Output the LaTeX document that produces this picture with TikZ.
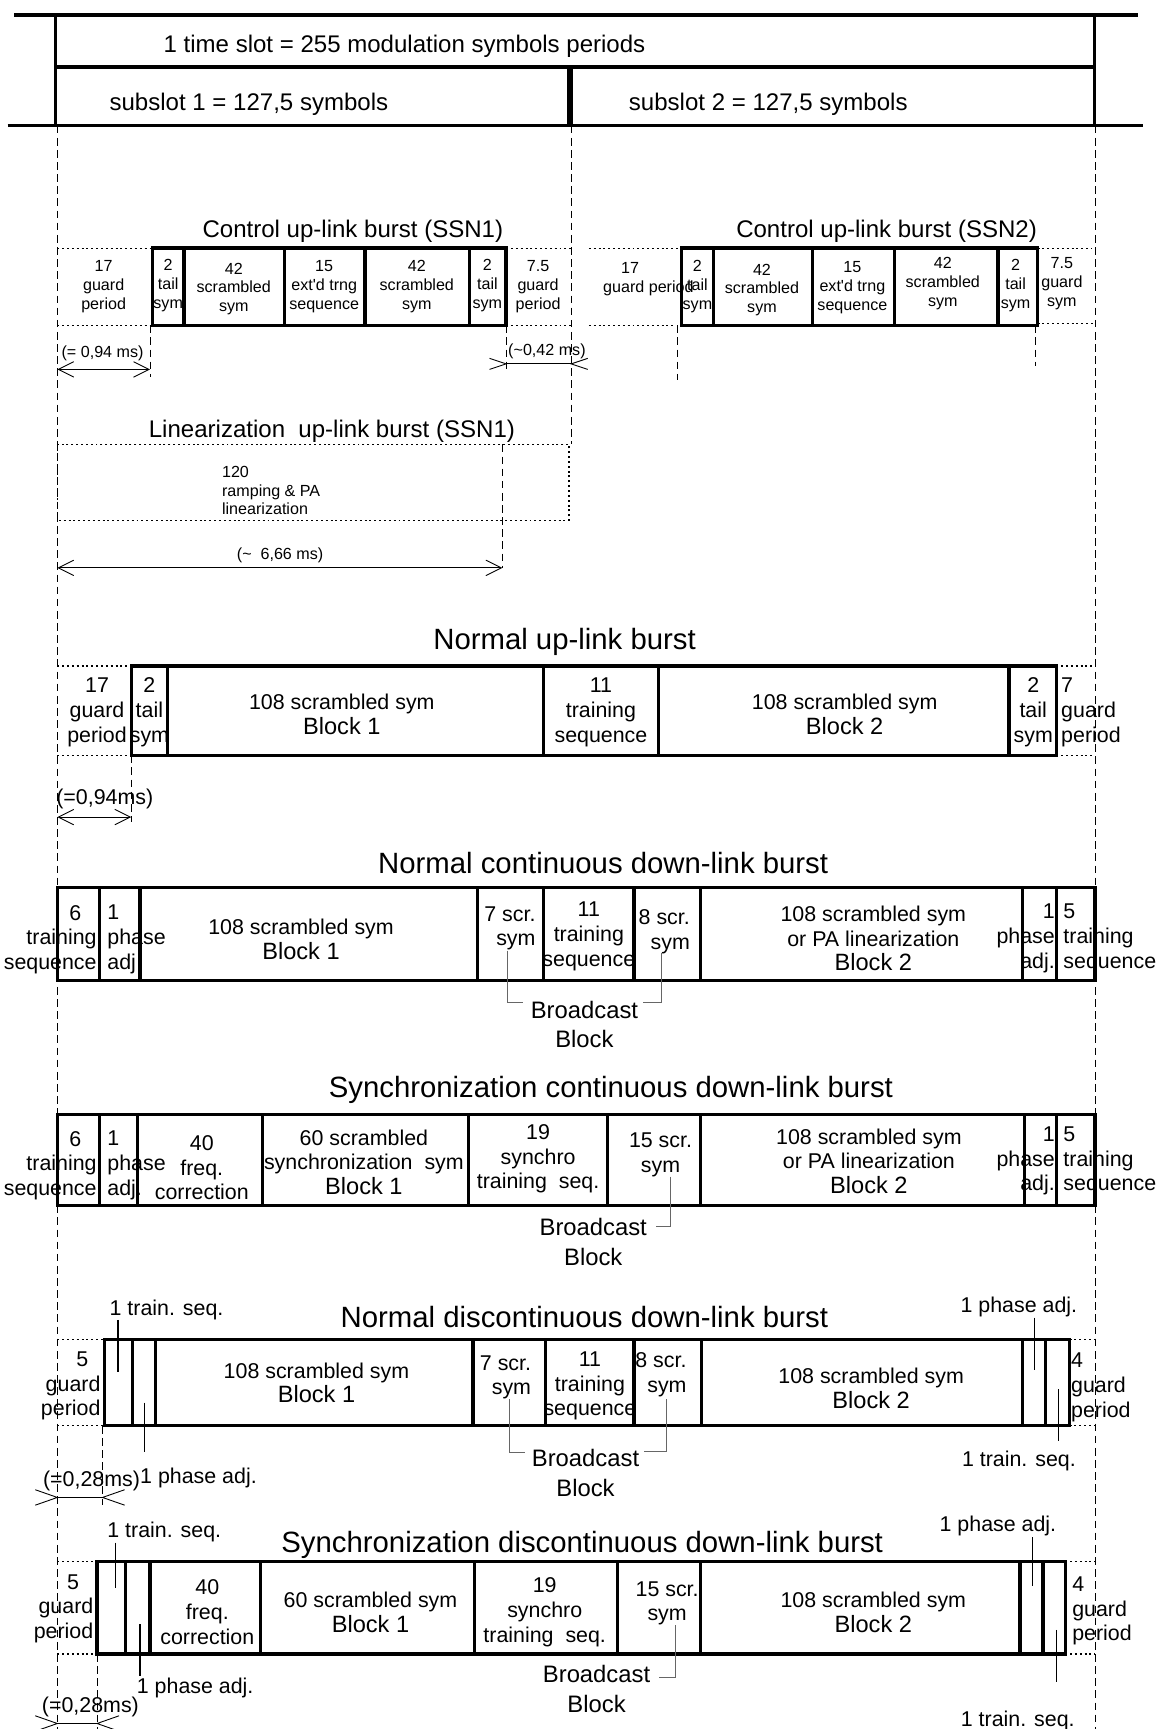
\documentclass[tikz,border=0pt]{standalone}
\usepackage{fontspec}
\setmainfont{Liberation Sans}
\usetikzlibrary{arrows.meta}

\newcommand{\blk}{\fontsize{10.7}{11.8}\selectfont}

\tikzset{
  slotline/.style={line width=1.6pt},
  burst/.style={line width=1.5pt},
  dotln/.style={line width=0.5pt, dash pattern=on 0.9pt off 1.3pt},
  guide/.style={line width=0.4pt, dash pattern=on 3.5pt off 2pt},
  leader/.style={line width=0.45pt, black!60},
  tick/.style={line width=0.5pt},
  dimline/.style={line width=0.4pt,
    {Straight Barb[length=7pt,width=7pt]}-{Straight Barb[length=7pt,width=7pt]}},
  chev/.style={line width=0.4pt},
  ttl/.style={inner sep=0pt, font=\fontsize{13.3}{16}\selectfont},
  toptxt/.style={inner sep=0pt, font=\fontsize{10.9}{13}\selectfont},
  ctltxt/.style={inner sep=0pt, align=center, font=\fontsize{7.3}{8.5}\selectfont},
  celltxt/.style={inner sep=0pt, align=center, font=\fontsize{9.7}{11.2}\selectfont},
  bcast/.style={inner sep=0pt, align=center, font=\fontsize{10.8}{13.5}\selectfont}
}

\begin{document}
\begin{tikzpicture}[x=0.5pt, y=-0.5pt]

    % Page frame
    \useasboundingbox (0,0) rectangle (1049,1568);

    % Time slot
    \draw[slotline] (13,13.5) -- (1032,13.5);
    \draw[slotline] (7,114) -- (1037,114);
    \draw[slotline] (50.5,13.5) -- (50.5,114);
    \draw[slotline] (992.5,13.5) -- (992.5,114);
    \draw[slotline] (50.5,61) -- (992.5,61);
    \draw[line width=2.6pt] (517,61) -- (517,114);
    \node[toptxt, anchor=west] (slot) at (148,42) {1 time slot = 255 modulation symbols periods};
    \node[toptxt, anchor=west] (sub1) at (99,95) {subslot 1 = 127,5 symbols};
    \node[toptxt, anchor=west] (sub2) at (570,95) {subslot 2 = 127,5 symbols};

    % Guide lines
    \draw[guide] (52,114) -- (52,1568);
    \draw[guide] (518,114) -- (518,403);
    \draw[guide] (993,114) -- (993,1568);

    % Control up-link burst (SSN1)
    \node[toptxt] (ctl1) at (320,210) {Control up-link burst (SSN1)};
    \draw[dotln] (52,225) -- (138,225) (52,295) -- (138,295);
    \draw[dotln] (459,225) -- (518,225) (459,295) -- (518,295);
    \draw[burst] (138,225) rectangle (459,295);
    \foreach \x in {167,258,331,426} \draw[burst] (\x,225) -- (\x,295);
    \node[ctltxt] (c1g) at (94,260) {17\\guard\\period};
    \node[ctltxt] (c1t) at (152.5,259) {2\\tail\\sym};
    \node[ctltxt] (c1s) at (212,262) {42\\scrambled\\sym};
    \node[ctltxt] (c1e) at (294,260) {15\\ext\textquotesingle d trng\\sequence};
    \node[ctltxt] (c1r) at (378,260) {42\\scrambled\\sym};
    \node[ctltxt] (c1u) at (442,259) {2\\tail\\sym};
    \node[ctltxt] (c1h) at (488,260) {7.5\\guard\\period};
    \draw[guide] (136,295) -- (136,342);
    \draw[guide] (459,295) -- (459,338);
    \coordinate (c1a) at (52,335);
    \coordinate (c1b) at (136,335);
    \draw[dimline] (c1a) -- (c1b);
    \node[ctltxt] (c1d) at (93,320) {(= 0,94 ms)};
    \coordinate (c1c) at (459,330);
    \coordinate (c1f) at (518,330);
    \draw[chev] (c1c) -- (c1f);
    \draw[chev] (c1c) ++(-15,-5) -- (c1c) -- ++(-15,5);
    \draw[chev] (c1f) ++(15,-5) -- (c1f) -- ++(15,5);
    \node[ctltxt] (c1k) at (496,319) {(\textasciitilde0,42 ms)};

    % Control up-link burst (SSN2)
    \node[toptxt] (ctl2) at (804,210) {Control up-link burst (SSN2)};
    \draw[dotln] (534,225) -- (618,225) (534,295) -- (613,295);
    \draw[dotln] (941,225) -- (990,225) (941,293) -- (992,293);
    \draw[burst] (618,225) rectangle (941,295);
    \foreach \x in {647,737,811,905} \draw[burst] (\x,225) -- (\x,295);
    \node[ctltxt] (c2g) at (588,253) {17\hspace*{16.5pt}\\guard period};
    \node[ctltxt] (c2t) at (632.5,260) {2\\tail\\sym};
    \node[ctltxt] (c2s) at (691,263) {42\\scrambled\\sym};
    \node[ctltxt] (c2e) at (773,261) {15\\ext\textquotesingle d trng\\sequence};
    \node[ctltxt] (c2r) at (855,257) {42\\scrambled\\sym};
    \node[ctltxt] (c2u) at (921,259) {2\\tail\\sym};
    \node[ctltxt] (c2h) at (963,257) {7.5\\guard\\sym};
    \draw[guide] (614,295) -- (614,345);
    \draw[guide] (939,295) -- (939,332);

    % Linearization up-link burst (SSN1)
    \node[toptxt] (lin) at (301,391) {Linearization\ \ up-link burst (SSN1)};
    \draw[dotln] (52,403) rectangle (516,472);
    \draw[guide] (455.5,403) -- (455.5,515);
    \node[ctltxt, align=left, anchor=west, font=\fontsize{7.3}{8.3}\selectfont] (ramp) at (201,445) {120\\ramping \& PA\\linearization};
    \coordinate (l1a) at (52,515);
    \coordinate (l1b) at (455.5,515);
    \draw[dimline] (l1a) -- (l1b);
    \node[ctltxt] (l1d) at (254,504) {(\textasciitilde\ \ 6,66 ms)};

    % Normal up-link burst
    \node[ttl] (nul) at (512,582) {Normal up-link burst};
    \draw[dotln] (52,604) -- (119,604) (52,685) -- (119,685);
    \draw[dotln] (958,604) -- (993,604) (958,685) -- (993,685);
    \draw[burst] (119,604) rectangle (958,685);
    \foreach \x in {152,493,597,915} \draw[burst] (\x,604) -- (\x,685);
    \node[celltxt] (u1g) at (88,646) {17\\guard\\period};
    \node[celltxt] (u1t) at (135.5,646) {2\\tail\\sym};
    \node[celltxt] (u1b) at (310,648) {108 scrambled sym\\\blk Block 1};
    \node[celltxt] (u1s) at (545,646) {11\\training\\sequence};
    \node[celltxt] (u1c) at (766,648) {108 scrambled sym\\\blk Block 2};
    \node[celltxt] (u1u) at (937,646) {2\\tail\\sym};
    \node[celltxt, align=left, anchor=west] (u1h) at (962,646) {7\\guard\\period};
    \draw[guide] (119,685) -- (119,745);
    \coordinate (u1a) at (52,741);
    \coordinate (u1e) at (119,741);
    \draw[dimline] (u1a) -- (u1e);
    \node[celltxt] (u1d) at (95,725) {(=0,94ms)};

    % Normal continuous down-link burst
    \node[ttl] (ncd) at (547,783) {Normal continuous down-link burst};
    \draw[burst] (52,805) rectangle (993,889);
    \foreach \x in {90,127,433,493,575,635,927,958} \draw[burst] (\x,805) -- (\x,889);
    \node[celltxt, align=right, anchor=east] (n1a) at (88,852) {6\hspace*{7pt}\\training\\sequence};
    \node[celltxt, align=left, anchor=west] (n1p) at (97,852) {1\\phase\\adj};
    \node[celltxt] (n1b) at (273,852) {108 scrambled sym\\\blk Block 1};
    \node[celltxt, align=right, anchor=east] (n1s) at (486,842) {7 scr.\\sym};
    \node[celltxt] (n1q) at (534,849) {11\\training\\sequence};
    \node[celltxt, align=right, anchor=east] (n1r) at (626,845) {8 scr.\\sym};
    \node[celltxt] (n1c) at (792,851) {108 scrambled sym\\or PA linearization\\\blk Block 2};
    \node[celltxt, align=right, anchor=east] (n1u) at (957,851) {1\\phase\\adj.};
    \node[celltxt, align=left, anchor=west] (n1v) at (964,851) {5\\training\\sequence};
    \node[bcast] (n1w) at (530,929) {Broadcast\\Block};
    \coordinate (n1x) at (460,862);
    \coordinate (n1y) at (474,909);
    \coordinate (n1z) at (600,864);
    \coordinate (n1k) at (583,909);
    \draw[leader] (n1x) |- (n1y);
    \draw[leader] (n1z) |- (n1k);

    % Synchronization continuous down-link burst
    \node[ttl] (scd) at (554,988) {Synchronization continuous down-link burst};
    \draw[burst] (52,1011) rectangle (993,1093);
    \foreach \x in {90,125,238,425,551,635,929,958} \draw[burst] (\x,1011) -- (\x,1093);
    \node[celltxt, align=right, anchor=east] (s1a) at (88,1057) {6\hspace*{7pt}\\training\\sequence};
    \node[celltxt, align=left, anchor=west] (s1p) at (97,1057) {1\\phase\\adj.};
    \node[celltxt] (s1f) at (183,1059) {40\\freq.\\correction};
    \node[celltxt] (s1b) at (330,1054) {60 scrambled\\synchronization\ \ sym\\\blk Block 1};
    \node[celltxt] (s1q) at (488,1051) {19\\synchro\\training\ \ seq.};
    \node[celltxt] (s1s) at (599,1047) {15 scr.\\sym};
    \node[celltxt] (s1c) at (788,1053) {108 scrambled sym\\or PA linearization\\\blk Block 2};
    \node[celltxt, align=right, anchor=east] (s1u) at (957,1053) {1\\phase\\adj.};
    \node[celltxt, align=left, anchor=west] (s1v) at (964,1053) {5\\training\\sequence};
    \node[bcast] (s1w) at (538,1126) {Broadcast\\Block};
    \coordinate (s1x) at (608,1067);
    \coordinate (s1y) at (595,1112);
    \draw[leader] (s1x) |- (s1y);

    % Normal discontinuous down-link burst
    \node[ttl] (ndd) at (530,1194) {Normal discontinuous down-link burst};
    \draw[dotln] (52,1215) -- (95,1215) (52,1293) -- (95,1293);
    \draw[dotln] (970,1215) -- (993,1215) (970,1293) -- (993,1293);
    \draw[burst] (95,1215) rectangle (970,1293);
    \foreach \x in {120,141,429,495,575,636,927,948} \draw[burst] (\x,1215) -- (\x,1293);
    \node[celltxt, align=right, anchor=east] (d1g) at (91.5,1257) {5\hspace*{5.5pt}\\guard\\period};
    \node[celltxt] (d1b) at (287,1254) {108 scrambled sym\\\blk Block 1};
    \node[celltxt, align=right, anchor=east] (d1s) at (482,1249) {7 scr.\\sym};
    \node[celltxt] (d1q) at (535,1257) {11\\training\\sequence};
    \node[celltxt, align=right, anchor=east] (d1r) at (623,1247) {8 scr.\\sym};
    \node[celltxt] (d1c) at (790,1259) {108 scrambled sym\\\blk Block 2};
    \node[celltxt, align=left, anchor=west] (d1h) at (971,1258) {4\\guard\\period};
    \node[celltxt] (d1l) at (151,1188) {1 train. seq.};
    \coordinate (d1m) at (107,1197);
    \coordinate (d1n) at (107,1244);
    \draw[tick] (d1m) -- (d1n);
    \node[celltxt] (d1o) at (180,1340) {1 phase adj.};
    \coordinate (d1p) at (131,1272);
    \coordinate (d1q) at (131,1317);
    \draw[tick] (d1p) -- (d1q);
    \node[celltxt] (d1r) at (924,1185) {1 phase adj.};
    \coordinate (d1s) at (938.5,1195);
    \coordinate (d1t) at (938.5,1242);
    \draw[tick] (d1s) -- (d1t);
    \node[celltxt] (d1u) at (924,1325) {1 train. seq.};
    \coordinate (d1v) at (960,1260);
    \coordinate (d1w) at (960,1307);
    \draw[tick] (d1v) -- (d1w);
    \node[bcast] (d1x) at (531,1335.5) {Broadcast\\Block};
    \coordinate (d1y) at (462,1269);
    \coordinate (d1z) at (476,1317);
    \coordinate (d1k) at (604,1269);
    \coordinate (d1j) at (584,1316);
    \draw[leader] (d1y) |- (d1z);
    \draw[leader] (d1k) |- (d1j);
    \draw[guide] (93,1293) -- (93,1365);
    \coordinate (d1a) at (52,1358);
    \coordinate (d1e) at (93,1358);
    \draw[chev] (d1a) -- (d1e);
    \draw[chev] (d1a) ++(-20,-7) -- (d1a) -- ++(-20,7);
    \draw[chev] (d1e) ++(20,-7) -- (d1e) -- ++(20,7);
    \node[celltxt] (d1d) at (83,1343) {(=0,28ms)};

    % Synchronization discontinuous down-link burst
    \node[ttl] (sdd) at (528,1401) {Synchronization discontinuous down-link burst};
    \draw[dotln] (52,1416) -- (88,1416) (52,1500) -- (88,1500);
    \draw[dotln] (966,1416) -- (993,1416) (966,1500) -- (993,1500);
    \draw[burst] (88,1416) rectangle (966,1500);
    \foreach \x in {114,136,236,430,560,635,925,946} \draw[burst] (\x,1416) -- (\x,1500);
    \node[celltxt, align=right, anchor=east] (e1g) at (85,1459) {5\hspace*{6.5pt}\\guard\\period};
    \node[celltxt] (e1f) at (188,1462) {40\\freq.\\correction};
    \node[celltxt] (e1b) at (336,1462) {60 scrambled sym\\\blk Block 1};
    \node[celltxt] (e1q) at (494,1462) {19\\synchro\\training\ \ seq.};
    \node[celltxt] (e1s) at (605,1454) {15 scr.\\sym};
    \node[celltxt] (e1c) at (792,1462) {108 scrambled sym\\\blk Block 2};
    \node[celltxt, align=left, anchor=west] (e1h) at (972,1461) {4\\guard\\period};
    \node[bcast] (e1w) at (541,1532) {Broadcast\\Block};
    \coordinate (e1x) at (613,1474);
    \coordinate (e1y) at (598,1521);
    \draw[leader] (e1x) |- (e1y);
    \node[celltxt] (e1l) at (149,1389) {1 train. seq.};
    \coordinate (e1m) at (105,1399);
    \coordinate (e1n) at (105,1440);
    \draw[tick] (e1m) -- (e1n);
    \node[celltxt] (e1o) at (177,1531) {1 phase adj.};
    \coordinate (e1p) at (127,1473);
    \coordinate (e1r) at (127,1520);
    \draw[tick] (e1p) -- (e1r);
    \node[celltxt] (e1t) at (905,1384) {1 phase adj.};
    \coordinate (e1u) at (936,1394);
    \coordinate (e1v) at (936,1438);
    \draw[tick] (e1u) -- (e1v);
    \node[celltxt] (e1z) at (923,1561) {1 train. seq.};
    \coordinate (e1a) at (958,1478);
    \coordinate (e1k) at (958,1525);
    \draw[tick] (e1a) -- (e1k);
    \draw[guide] (88,1500) -- (88,1568);
    \coordinate (e1d) at (52,1563);
    \coordinate (e1e) at (88,1563);
    \draw[chev] (e1d) -- (e1e);
    \draw[chev] (e1d) ++(-20,-7) -- (e1d) -- ++(-20,7);
    \draw[chev] (e1e) ++(20,-7) -- (e1e) -- ++(20,7);
    \node[celltxt] (e1j) at (82,1548) {(=0,28ms)};

\end{tikzpicture}
\end{document}
